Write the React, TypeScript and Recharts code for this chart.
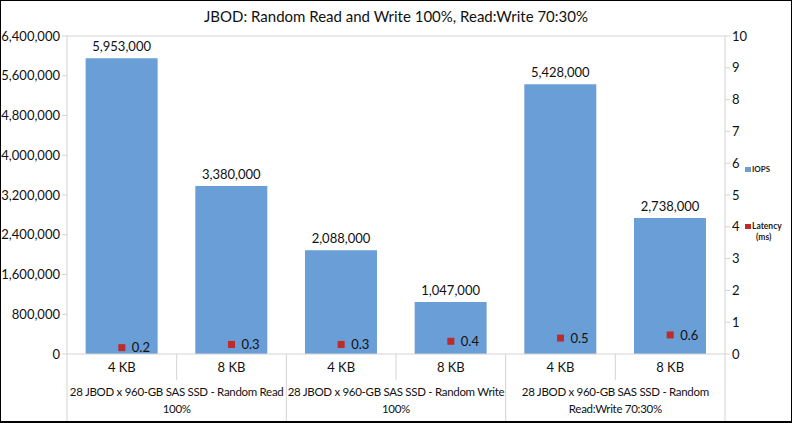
import React from 'react';
import {
  ComposedChart,
  Bar,
  Line,
  XAxis,
  YAxis,
  LabelList,
  Legend,
  ReferenceLine,
} from 'recharts';

const sizes = ['4 KB', '8 KB', '4 KB', '8 KB', '4 KB', '8 KB'];
const groups = [
  '28 JBOD x 960-GB SAS SSD - Random Read\n100%',
  '28 JBOD x 960-GB SAS SSD - Random Write\n100%',
  '28 JBOD x 960-GB SAS SSD - Random\nRead:Write 70:30%',
];
const iops = [5953000, 3380000, 2088000, 1047000, 5428000, 2738000];
const latency = [0.2, 0.3, 0.3, 0.4, 0.5, 0.6];
const iopsTicks = [0, 800000, 1600000, 2400000, 3200000, 4000000, 4800000, 5600000, 6400000];
const latencyTicks = [0, 1, 2, 3, 4, 5, 6, 7, 8, 9, 10];

const data = sizes.map((size, i) => ({
  size,
  group: groups[Math.floor(i / 2)],
  iops: iops[i],
  latency: latency[i],
}));

const FONT = 'Lato, "Liberation Sans", sans-serif';
const BLUE = '#6a9ed6';
const RED = '#be2b2b';
const AXIS = '#d4d4d4';
const PLOT_L = 67;
const PLOT_R = 725;
const HALF = (PLOT_R - PLOT_L) / 12;

const fmt = (v: number) => v.toLocaleString('en-US');

function SizeTick(props: any) {
  const { x, payload, index } = props;
  const left = x - HALF;
  const right = x + HALF;
  return (
    <g>
      <line x1={left} y1={354} x2={left} y2={index % 2 === 0 ? 421 : 380} stroke={AXIS} />
      {index === sizes.length - 1 && (
        <line x1={right} y1={354} x2={right} y2={421} stroke={AXIS} />
      )}
      <text x={x} y={372} textAnchor="middle" fontSize={13} fill="#111" fontFamily={FONT}>
        {payload.value}
      </text>
    </g>
  );
}

function GroupTick(props: any) {
  const { x, payload } = props;
  const lines = String(payload.value).split('\n');
  return (
    <text
      x={x}
      y={396}
      textAnchor="middle"
      fontSize={11.5}
      letterSpacing={-0.3}
      fill="#111"
      fontFamily={FONT}
    >
      {lines.map((l, i) => (
        <tspan key={i} x={x} dy={i === 0 ? 0 : 17}>
          {l}
        </tspan>
      ))}
    </text>
  );
}

function Square(props: any) {
  const { cx, cy } = props;
  if (cx == null || cy == null) return null;
  return <rect x={cx - 3.5} y={cy - 3.5} width={7} height={7} fill={RED} />;
}

function LegendBox() {
  const txt: React.CSSProperties = {
    position: 'absolute',
    fontSize: 8,
    fontWeight: 'bold',
    fontFamily: FONT,
    color: '#222',
    lineHeight: '10px',
    whiteSpace: 'nowrap',
  };
  return (
    <div style={{ position: 'relative', width: 47, height: 90 }}>
      <div style={{ position: 'absolute', left: 0, top: 7, width: 6, height: 5, background: BLUE }} />
      <div style={{ ...txt, left: 7, top: 4 }}>IOPS</div>
      <div style={{ position: 'absolute', left: 0, top: 64, width: 6, height: 5, background: RED }} />
      <div style={{ ...txt, left: 7, top: 61, fontSize: 8.5 }}>Latency</div>
      <div style={{ ...txt, left: 11, top: 72, fontSize: 8.5 }}>(ms)</div>
    </div>
  );
}

export default function App() {
  return (
    <div style={{ position: 'fixed', left: 0, top: 0, width: 792, height: 423, background: '#fff' }}>
      <div
        style={{
          position: 'absolute',
          left: 0,
          top: 0,
          width: 792,
          height: 423,
          boxSizing: 'border-box',
          border: '1px solid #000',
          borderBottomWidth: 2,
          pointerEvents: 'none',
          zIndex: 2,
        }}
      />
      <div
        style={{
          position: 'absolute',
          left: 0,
          top: 7,
          width: 792,
          textAlign: 'center',
          fontSize: 15,
          fontFamily: FONT,
          color: '#111',
        }}
      >
        JBOD: Random Read and Write 100%, Read:Write 70:30%
      </div>
      <ComposedChart
        width={792}
        height={423}
        data={data}
        margin={{ top: 36, right: 0, bottom: 0, left: 9 }}
        barCategoryGap="17%"
      >
        <XAxis
          dataKey="size"
          height={24}
          interval={0}
          axisLine={{ stroke: AXIS }}
          tickLine={false}
          tick={<SizeTick />}
        />
        <XAxis
          xAxisId="grp"
          dataKey="group"
          allowDuplicatedCategory={false}
          height={45}
          interval={0}
          axisLine={false}
          tickLine={false}
          tick={<GroupTick />}
        />
        <YAxis
          yAxisId="left"
          width={58}
          domain={[0, 6400000]}
          ticks={iopsTicks}
          tickFormatter={fmt}
          axisLine={{ stroke: AXIS }}
          tickLine={{ stroke: AXIS }}
          tickSize={5}
          tick={{ fontSize: 13, fill: '#111', fontFamily: FONT }}
        />
        <YAxis
          yAxisId="right"
          orientation="right"
          width={67}
          domain={[0, 10]}
          ticks={latencyTicks}
          axisLine={{ stroke: AXIS }}
          tickLine={{ stroke: AXIS }}
          tickSize={5}
          tick={{ fontSize: 13, fill: '#111', fontFamily: FONT, textAnchor: 'start' }}
        />
        <ReferenceLine yAxisId="left" y={6400000} stroke={AXIS} />
        <Bar yAxisId="left" dataKey="iops" name="IOPS" fill={BLUE} isAnimationActive={false}>
          <LabelList
            dataKey="iops"
            position="top"
            offset={7}
            formatter={(v: any) => fmt(Number(v))}
            style={{ fontSize: 13, fill: '#111', fontFamily: FONT }}
          />
        </Bar>
        <Line
          yAxisId="right"
          dataKey="latency"
          name="Latency (ms)"
          stroke="none"
          dot={<Square />}
          activeDot={false}
          isAnimationActive={false}
        >
          <LabelList
            dataKey="latency"
            position="right"
            offset={10}
            style={{ fontSize: 13, fill: '#111', fontFamily: FONT }}
          />
        </Line>
        <Legend
          layout="horizontal"
          verticalAlign="middle"
          align="center"
          content={() => <LegendBox />}
          wrapperStyle={{ left: 745, top: 160, width: 47, height: 90 }}
        />
      </ComposedChart>
    </div>
  );
}
